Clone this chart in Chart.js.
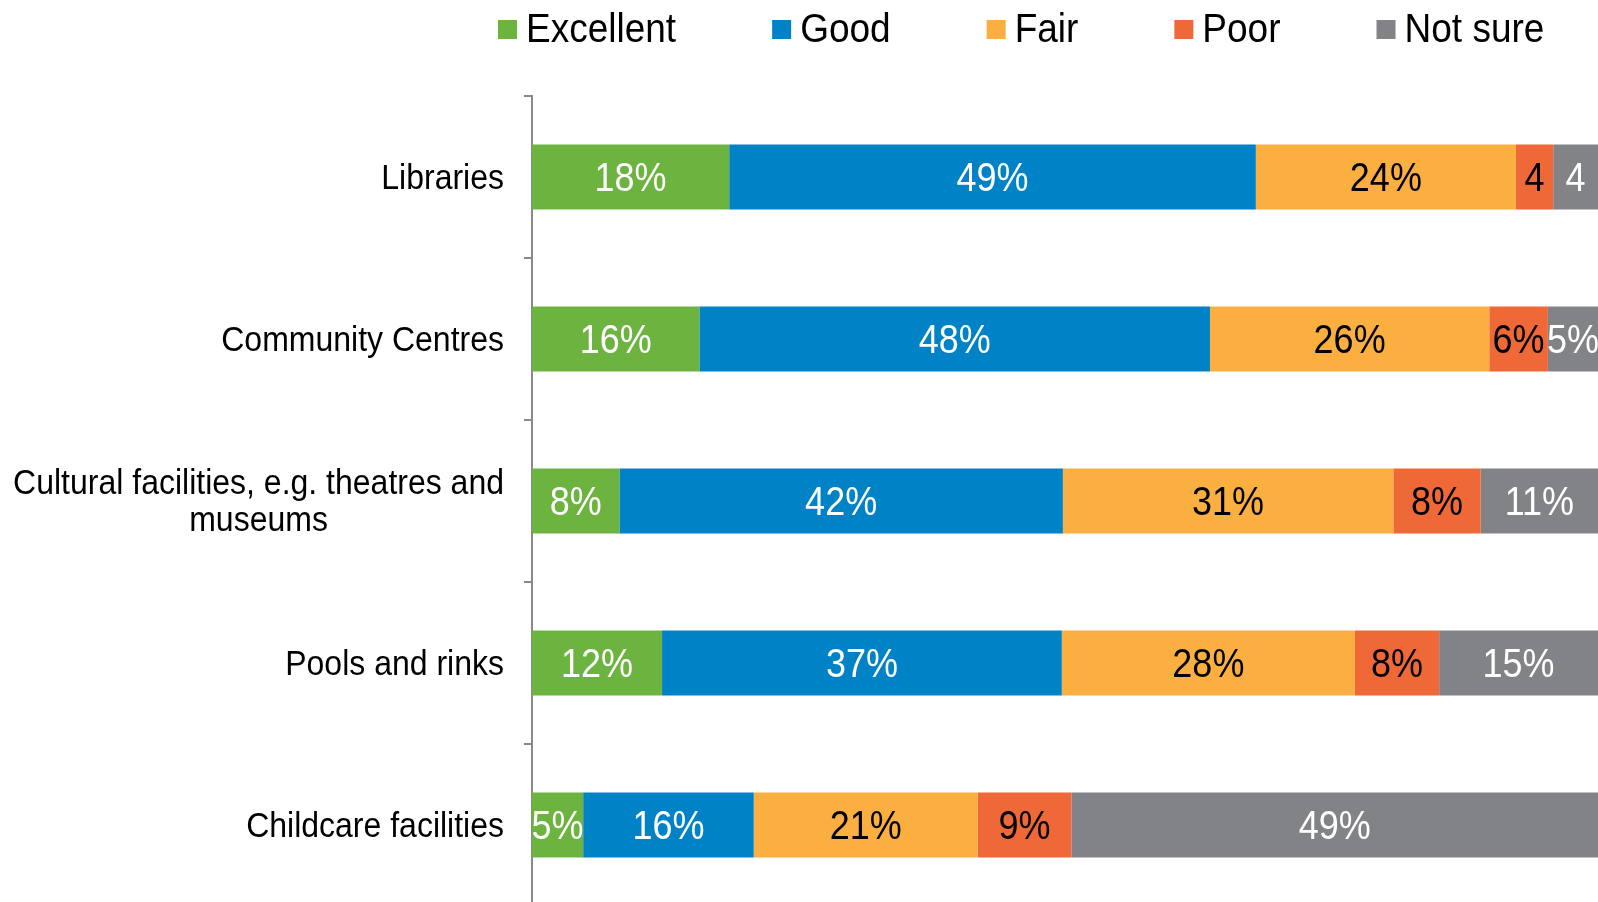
<!DOCTYPE html>
<html>
<head>
<meta charset="utf-8">
<script src="https://cdn.jsdelivr.net/npm/chart.js@4"></script>
<style>
  html, body { margin: 0; padding: 0; background: #fff; overflow: hidden; }
  canvas { display: block; }
</style>
</head>
<body>
<canvas id="chart" width="1598" height="910"></canvas>
<script>
// Categories (one bar each)
const categories = [
    "Libraries",
    "Community Centres",
    ["Cultural facilities, e.g. theatres and", "museums"],
    "Pools and rinks",
    "Childcare facilities"
];

// Shares in %
const excellent = [18.5, 15.7, 8.2, 12.2, 4.8];
const good      = [49.4, 47.9, 41.6, 37.5, 16.0];
const fair      = [24.4, 26.2, 31.0, 27.5, 21.0];
const poor      = [3.5, 5.5, 8.2, 7.9, 8.8];
const notSure   = [4.2, 4.7, 11.0, 14.9, 49.4];

// Text printed inside each segment
const excellentLabels = ["18%", "16%", "8%", "12%", "5%"];
const goodLabels      = ["49%", "48%", "42%", "37%", "16%"];
const fairLabels      = ["24%", "26%", "31%", "28%", "21%"];
const poorLabels      = ["4", "6%", "8%", "8%", "9%"];
const notSureLabels   = ["4", "5%", "11%", "15%", "49%"];

const FONT = '"Liberation Sans", Arial, sans-serif';

// the original text is a little taller than Arial, stretch it slightly
function tallText(ctx, text, x, y) {
    ctx.save();
    ctx.translate(x, y);
    ctx.scale(1, 1.12);
    ctx.fillText(text, 0, 0);
    ctx.restore();
}

// Text inside the bars
const segmentLabels = {
    id: "segmentLabels",
    afterDatasetsDraw(chart) {
        const ctx = chart.ctx;
        ctx.save();
        ctx.font = "36px " + FONT;
        ctx.textAlign = "center";
        ctx.textBaseline = "middle";
        chart.data.datasets.forEach((ds, i) => {
            chart.getDatasetMeta(i).data.forEach((bar, j) => {
                const c = bar.getCenterPoint();
                ctx.fillStyle = ds.labelColor;
                tallText(ctx, ds.valueLabels[j], c.x, c.y + 3);
            });
        });
        ctx.restore();
    }
};

// Category names, wrapped lines centred on each other
const categoryLabels = {
    id: "categoryLabels",
    afterDraw(chart) {
        const y = chart.scales.y;
        const ctx = chart.ctx;
        ctx.save();
        ctx.font = "32px " + FONT;
        ctx.fillStyle = "#000";
        ctx.textAlign = "center";
        ctx.textBaseline = "middle";
        const right = y.right - 28;
        categories.forEach((cat, i) => {
            const lines = Array.isArray(cat) ? cat : [cat];
            const w = Math.max(...lines.map(l => ctx.measureText(l).width));
            const cx = right - w / 2;
            const cy = y.getPixelForTick(i);
            lines.forEach((l, k) => {
                tallText(ctx, l, cx, cy + 2 + (k - (lines.length - 1) / 2) * 37);
            });
        });
        ctx.restore();
    }
};

// Legend across the top
const topLegend = {
    id: "topLegend",
    afterDraw(chart) {
        const ctx = chart.ctx;
        ctx.save();
        ctx.font = "37px " + FONT;
        ctx.textAlign = "left";
        ctx.textBaseline = "middle";
        let x = 498;
        chart.data.datasets.forEach(ds => {
            ctx.fillStyle = ds.backgroundColor;
            ctx.fillRect(x, 20, 19, 19);
            ctx.fillStyle = "#000";
            tallText(ctx, ds.label, x + 28, 31);
            x += 28 + ctx.measureText(ds.label).width + 96;
        });
        ctx.restore();
    }
};

const ctx = document.getElementById("chart").getContext("2d");
new Chart(ctx, {
    type: "bar",
    data: {
        labels: categories,
        datasets: [
            { label: "Excellent", data: excellent, backgroundColor: "#6db33f", valueLabels: excellentLabels, labelColor: "#fff" },
            { label: "Good", data: good, backgroundColor: "#0082c6", valueLabels: goodLabels, labelColor: "#fff" },
            { label: "Fair", data: fair, backgroundColor: "#fbaf40", valueLabels: fairLabels, labelColor: "#000" },
            { label: "Poor", data: poor, backgroundColor: "#ef6837", valueLabels: poorLabels, labelColor: "#000" },
            { label: "Not sure", data: notSure, backgroundColor: "#828386", valueLabels: notSureLabels, labelColor: "#fff" }
        ]
    },
    options: {
        indexAxis: "y",
        responsive: false,
        animation: false,
        devicePixelRatio: 1,
        events: [],
        layout: { padding: { top: 96, bottom: 4, left: 0, right: 0 } },
        datasets: { bar: { barPercentage: 0.4, categoryPercentage: 1.0, borderWidth: 0 } },
        scales: {
            x: { stacked: true, min: 0, max: 100, display: false },
            y: {
                stacked: true,
                offset: true,
                border: { color: "#898989", width: 2 },
                grid: { offset: true, drawOnChartArea: false, drawTicks: true, tickLength: 8, color: "#898989", lineWidth: 2 },
                ticks: { display: false },
                afterFit(s) { s.width = 532; }
            }
        },
        plugins: {
            legend: { display: false },
            tooltip: { enabled: false }
        }
    },
    plugins: [segmentLabels, categoryLabels, topLegend]
});
</script>
</body>
</html>
